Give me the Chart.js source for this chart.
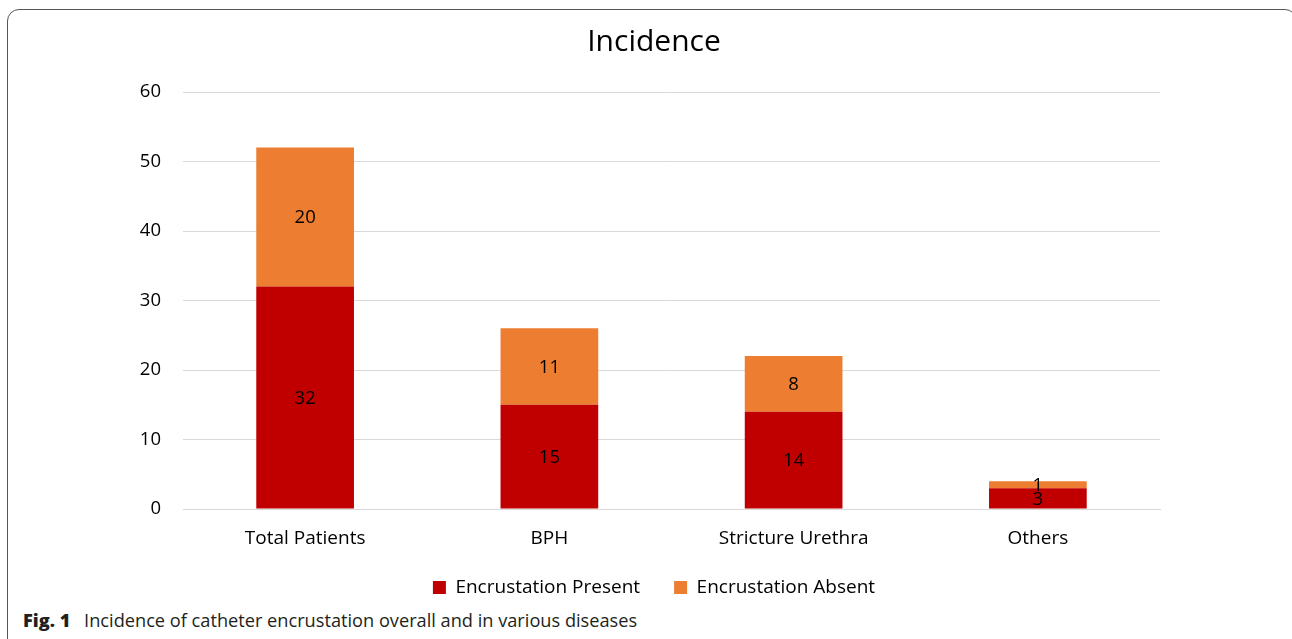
<!DOCTYPE html>
<html>
<head>
<meta charset="utf-8">
<script src="https://cdn.jsdelivr.net/npm/chart.js@4.4.1/dist/chart.umd.min.js"></script>
<style>
  html, body { margin: 0; padding: 0; background: #fff; }
  body { width: 1292px; height: 639px; position: relative; overflow: hidden; }
  #frame {
    position: absolute; left: 7px; top: 9px; width: 1290px; height: 660px;
    border: 1px solid #555; border-radius: 12px; box-sizing: border-box;
  }
  #wrap { position: absolute; left: 0; top: 0; width: 1292px; height: 607px; }
  #caption {
    position: absolute; left: 23px; top: 608px;
    font-family: "Open Sans", sans-serif; font-size: 18.2px; color: #231f20; white-space: nowrap;
  }
  #caption b { font-weight: 800; margin-right: 9px; }
</style>
</head>
<body>
<div id="frame"></div>
<div id="wrap"><canvas id="c"></canvas></div>
<div id="caption"><b>Fig. 1</b> Incidence of catheter encrustation overall and in various diseases</div>
<script>
// Categories and stacked counts
const categories = ["Total Patients", "BPH", "Stricture Urethra", "Others"];
const present = [32, 15, 14, 3];
const absent = [20, 11, 8, 1];
const yTicks = [0, 10, 20, 30, 40, 50, 60];

const FONT = "'Open Sans', sans-serif";

// Writes each segment's value at its middle
const segmentLabels = {
  id: "segmentLabels",
  afterDatasetsDraw(chart) {
    const ctx = chart.ctx;
    ctx.save();
    ctx.font = "18.5px " + FONT;
    ctx.fillStyle = "#000";
    ctx.textAlign = "center";
    ctx.textBaseline = "middle";
    chart.data.datasets.forEach((ds, di) => {
      chart.getDatasetMeta(di).data.forEach((bar, i) => {
        const p = bar.getProps(["x", "y", "base"], true);
        ctx.fillText(String(ds.data[i]), p.x, (p.y + p.base) / 2 + 1);
      });
    });
    ctx.restore();
  }
};

new Chart(document.getElementById("c"), {
  type: "bar",
  data: {
    labels: categories,
    datasets: [
      { label: "Encrustation Present", data: present, backgroundColor: "#C00000", borderWidth: 0 },
      { label: "Encrustation Absent", data: absent, backgroundColor: "#ED7D31", borderWidth: 0 }
    ]
  },
  options: {
    responsive: true,
    maintainAspectRatio: false,
    animation: false,
    layout: { padding: { left: 16, right: 0, top: 24, bottom: 0 } },
    datasets: { bar: { categoryPercentage: 1, barPercentage: 0.4 } },
    scales: {
      x: {
        stacked: true,
        grid: { display: false, drawTicks: false },
        border: { display: true, color: "#d9d9d9", width: 1 },
        ticks: { color: "#000", font: { family: FONT, size: 19 }, padding: 18 },
        afterFit(scale) { scale.height = 35; }
      },
      y: {
        stacked: true,
        min: 0, max: 60,
        afterBuildTicks(scale) { scale.ticks = yTicks.map(v => ({ value: v })); },
        grid: { color: "#d9d9d9", drawTicks: false },
        border: { display: false },
        ticks: { color: "#000", font: { family: FONT, size: 18.5 }, padding: 22 },
        afterFit(scale) { scale.width = 167; }
      },
      // empty right-hand margin column, keeps the plot clear of the right edge
      gap: {
        type: "linear",
        position: "right",
        display: true,
        grid: { display: false, drawTicks: false },
        border: { display: false },
        ticks: { display: false },
        afterFit(scale) { scale.width = 132; }
      }
    },
    plugins: {
      title: {
        display: true, text: "Incidence", color: "#000",
        font: { family: FONT, size: 30, weight: "normal" },
        padding: { top: 0, bottom: 32 }
      },
      legend: {
        position: "bottom",
        labels: {
          color: "#000", font: { family: FONT, size: 19 },
          boxWidth: 13, boxHeight: 13, padding: 34
        }
      },
      tooltip: { enabled: false }
    }
  },
  plugins: [segmentLabels]
});
</script>
</body>
</html>
